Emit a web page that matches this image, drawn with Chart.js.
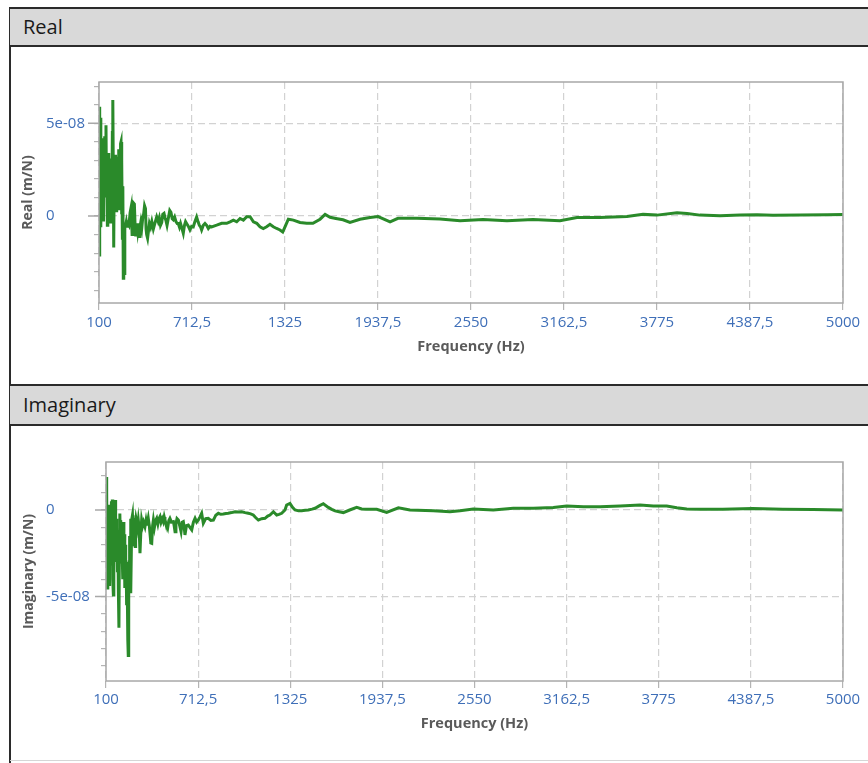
<!DOCTYPE html>
<html>
<head>
<meta charset="utf-8">
<script src="https://cdn.jsdelivr.net/npm/chart.js@4"></script>
<style>
  body { margin: 0; background: #fff; width: 868px; height: 763px; overflow: hidden; position: relative; font-family: 'Open Sans', sans-serif; }
  .edge { position: absolute; left: 9px; top: 7px; width: 2px; height: 760px; background: #2b2b2b; }
  .head { position: absolute; left: 10px; width: 870px; background: #d9d9d9; border-top: 2px solid #2b2b2b; border-bottom: 2px solid #2b2b2b; box-sizing: border-box; font-size: 20px; color: #1a1a1a; padding-left: 13px; }
  .foot { position: absolute; left: 10px; top: 760px; width: 870px; height: 1px; background: #d6d6d6; }
  canvas { position: absolute; }
</style>
</head>
<body>
<div class="edge"></div>
<div class="head" style="top:7px;height:40px;line-height:36px;">Real</div>
<div class="head" style="top:384px;height:42px;line-height:38px;">Imaginary</div>
<div class="foot"></div>
<canvas id="realChart" width="857" height="339" style="left:11px;top:46px;"></canvas>
<canvas id="imagChart" width="857" height="338" style="left:11px;top:425px;"></canvas>
<script>
// x tick positions (Hz)
const freqTicks = [100, 712.5, 1325, 1937.5, 2550, 3162.5, 3775, 4387.5, 5000];

// Real part (m/N)
const realFreq = [
  100, 103, 106, 109, 112, 115, 118, 121, 124, 127, 130, 133, 136, 139, 142, 146, 149, 152, 155, 158,
  161, 164, 167, 170, 173, 176, 179, 182, 185, 188, 191, 194, 197, 200, 203, 206, 209, 212, 215, 218,
  221, 224, 227, 230, 233, 236, 239, 242, 245, 248, 251, 254, 257, 260, 263, 266, 270, 275, 280, 285,
  290, 297, 305, 312, 318, 322, 328, 333, 338, 342, 348, 354, 359, 364, 370, 376, 382, 388, 394, 400,
  406, 410, 414, 420, 426, 432, 440, 448, 458, 468, 480, 490, 497, 505, 513, 520, 528, 535, 541, 548,
  557, 566, 574, 582, 589, 598, 607, 615, 622, 630, 637, 644, 655, 663, 670, 677, 688, 699, 710, 721,
  732, 743, 752, 761, 770, 776, 787, 798, 809, 820, 831, 842, 875, 908, 941, 963, 985, 1007, 1029, 1051,
  1073, 1095, 1117, 1139, 1160, 1182, 1204, 1226, 1248, 1270, 1292, 1310, 1325, 1347, 1380, 1424, 1468, 1509, 1556, 1589,
  1622, 1660, 1707, 1753, 1819, 1885, 1938, 2017, 2069, 2194, 2346, 2478, 2629, 2787, 2958, 3136, 3248, 3400, 3577, 3683,
  3775, 3907, 3973, 4058, 4190, 4322, 4434, 4539, 4717, 4895, 5000
];
const realVals = [
  -2.1e-8, 5.9e-8, 2.0e-8, 5.3e-8, -0.6e-8, 4.2e-8, 1.2e-8, 3.6e-8, 0.4e-8, 3.8e-8, -0.3e-8, 2.9e-8, 1.0e-8, 4.3e-8, 2.2e-8, 4.9e-8, 1.5e-8, 3.2e-8, -0.5e-8, 2.6e-8,
  0.6e-8, 3.4e-8, -0.2e-8, 2.8e-8, 1.3e-8, 3.1e-8, -0.4e-8, 2.4e-8, 0.9e-8, 4.5e-8, 6.26e-8, 2.6e-8, -1.7e-8, 2.0e-8, 0.2e-8, 3.3e-8, 1.1e-8, 2.9e-8, 0.2e-8, 2.5e-8,
  1.4e-8, 3.2e-8, 0.4e-8, 3.6e-8, 1.8e-8, 3.2e-8, 0.8e-8, 3.9e-8, 4.0e-8, 0.1e-8, 3.0e-8, -1.2e-8, 1.6e-8, -3.35e-8, -2.8e-8, -3.1e-8, -0.6e-8, -0.5e-8, -0.3e-8, -0.55e-8,
  -0.4e-8, -0.5e-8, 0.2e-8, 0.5e-8, -1.0e-8, -0.2e-8, 0.7e-8, 0.65e-8, -0.6e-8, -1.1e-8, -0.4e-8, -0.8e-8, -0.4e-8, -1.1e-8, -0.6e-8, -0.3e-8, -0.6e-8, -0.1e-8, 0.1e-8, 0.55e-8,
  0.4e-8, -0.7e-8, -1.0e-8, -1.2e-8, -0.8e-8, -0.4e-8, -0.6e-8, -0.3e-8, -0.7e-8, -0.4e-8, -0.05e-8, -0.3e-8, -0.1e-8, -0.5e-8, -0.35e-8, 0.1e-8, 0.15e-8, -0.1e-8, -0.25e-8, -0.5e-8,
  -0.1e-8, 0.3e-8, 0.2e-8, -0.15e-8, -0.2e-8, -0.05e-8, -0.3e-8, -0.4e-8, -0.4e-8, -0.6e-8, -0.4e-8, -0.6e-8, -0.93e-8, -0.5e-8, -0.3e-8, -0.4e-8, -0.55e-8, -0.75e-8, -0.55e-8, -0.58e-8,
  -0.3e-8, -0.05e-8, -0.3e-8, -0.5e-8, -0.6e-8, -0.75e-8, -0.5e-8, -0.4e-8, -0.5e-8, -0.67e-8, -0.55e-8, -0.58e-8, -0.49e-8, -0.39e-8, -0.39e-8, -0.31e-8, -0.22e-8, -0.31e-8, -0.13e-8, -0.22e-8,
  -0.04e-8, -0.04e-8, -0.31e-8, -0.39e-8, -0.58e-8, -0.67e-8, -0.58e-8, -0.45e-8, -0.58e-8, -0.67e-8, -0.75e-8, -0.86e-8, -0.58e-8, -0.17e-8, -0.22e-8, -0.35e-8, -0.39e-8, -0.39e-8, -0.17e-8, 0.09e-8,
  -0.07e-8, -0.13e-8, -0.2e-8, -0.34e-8, -0.17e-8, -0.08e-8, -0.03e-8, -0.31e-8, -0.12e-8, -0.12e-8, -0.16e-8, -0.25e-8, -0.18e-8, -0.25e-8, -0.18e-8, -0.25e-8, -0.08e-8, -0.08e-8, -0.03e-8, 0.09e-8,
  0.05e-8, 0.18e-8, 0.14e-8, 0.05e-8, 0.02e-8, 0.05e-8, 0.07e-8, 0.04e-8, 0.05e-8, 0.07e-8, 0.09e-8
];

// Imaginary part (m/N)
const imagFreq = [
  100, 103, 106, 109, 112, 115, 118, 121, 124, 127, 130, 133, 136, 139, 142, 145, 149, 152, 155, 158,
  161, 164, 167, 170, 173, 176, 179, 182, 186, 189, 192, 195, 198, 201, 204, 207, 210, 213, 216, 219,
  222, 225, 228, 231, 234, 237, 241, 245, 248, 251, 254, 257, 260, 263, 266, 269, 272, 276, 279, 282,
  286, 290, 293, 297, 300, 304, 310, 315, 320, 326, 331, 337, 344, 350, 359, 366, 372, 381, 388, 393,
  398, 404, 410, 415, 422, 430, 437, 445, 452, 459, 466, 474, 481, 487, 492, 500, 510, 518, 525, 535,
  548, 553, 559, 565, 572, 581, 590, 599, 607, 614, 620, 625, 635, 647, 658, 670, 681, 692, 703, 714,
  725, 736, 747, 763, 780, 797, 814, 830, 847, 863, 880, 897, 913, 935, 958, 980, 1002, 1025, 1046, 1062,
  1079, 1096, 1113, 1135, 1157, 1175, 1190, 1213, 1235, 1250, 1268, 1290, 1301, 1323, 1340, 1357, 1380, 1401, 1425, 1445,
  1470, 1490, 1520, 1545, 1578, 1601, 1623, 1650, 1678, 1720, 1767, 1800, 1833, 1900, 1966, 2044, 2121, 2276, 2387, 2454,
  2542, 2675, 2808, 2941, 3074, 3163, 3274, 3385, 3518, 3651, 3739, 3828, 3895, 3961, 4050, 4200, 4400, 4600, 4800, 5000
];
const imagVals = [
  1.9e-8, -3.3e-8, 1.0e-8, -4.5e-8, 0.2e-8, -2.5e-8, -0.5e-8, -4.3e-8, 0.3e-8, -1.5e-8, -0.3e-8, -3.2e-8, 0.5e-8, -2.0e-8, 0.6e-8, -4.0e-8, -4.9e-8, -1.0e-8, 0.2e-8, -2.2e-8,
  0.58e-8, -1.5e-8, -0.5e-8, -3.0e-8, -1.0e-8, -3.5e-8, -1.2e-8, -4.5e-8, -6.8e-8, -2.0e-8, -0.2e-8, -1.5e-8, -0.6e-8, -3.0e-8, -0.8e-8, -2.4e-8, -1.2e-8, -4.0e-8, -0.7e-8, -2.8e-8,
  -1.4e-8, -4.5e-8, -2.0e-8, -4.0e-8, -3.0e-8, -5.5e-8, -4.2e-8, -7.5e-8, -8.4e-8, -5.0e-8, -3.0e-8, -1.5e-8, -2.5e-8, -0.5e-8, -4.8e-8, -2.0e-8, -0.5e-8, -0.3e-8, -1.0e-8, -0.47e-8,
  -1.2e-8, -2.0e-8, -2.1e-8, -0.8e-8, -0.5e-8, -0.67e-8, -1.0e-8, -0.6e-8, -1.0e-8, -2.5e-8, -1.4e-8, -0.58e-8, -0.9e-8, -0.7e-8, -0.96e-8, -0.6e-8, -0.9e-8, -0.48e-8, -0.9e-8, -1.4e-8,
  -1.9e-8, -1.92e-8, -0.9e-8, -0.58e-8, -1.0e-8, -0.6e-8, -0.48e-8, -0.8e-8, -0.5e-8, -0.38e-8, -0.7e-8, -0.5e-8, -0.67e-8, -0.4e-8, -0.58e-8, -0.8e-8, -1.04e-8, -0.6e-8, -0.48e-8, -0.7e-8,
  -0.67e-8, -0.9e-8, -1.25e-8, -0.8e-8, -0.5e-8, -0.58e-8, -0.9e-8, -1.25e-8, -0.7e-8, -0.67e-8, -1.0e-8, -1.44e-8, -0.9e-8, -0.87e-8, -1.0e-8, -1.15e-8, -0.7e-8, -0.48e-8, -0.7e-8, -0.58e-8,
  -0.4e-8, -0.19e-8, -0.77e-8, -0.5e-8, -0.48e-8, -0.6e-8, -0.58e-8, -0.3e-8, -0.19e-8, -0.25e-8, -0.23e-8, -0.2e-8, -0.19e-8, -0.15e-8, -0.1e-8, -0.12e-8, -0.1e-8, -0.15e-8, -0.19e-8, -0.22e-8,
  -0.29e-8, -0.45e-8, -0.58e-8, -0.5e-8, -0.48e-8, -0.35e-8, -0.29e-8, -0.1e-8, -0.29e-8, -0.25e-8, -0.19e-8, 0.0, 0.29e-8, 0.38e-8, 0.15e-8, 0.0, -0.05e-8, -0.05e-8, -0.02e-8, 0.0,
  0.05e-8, 0.1e-8, 0.25e-8, 0.36e-8, 0.15e-8, 0.04e-8, -0.05e-8, -0.1e-8, -0.15e-8, 0.0, 0.15e-8, 0.06e-8, 0.04e-8, 0.04e-8, -0.14e-8, 0.13e-8, 0.0, -0.04e-8, -0.1e-8, -0.04e-8,
  0.06e-8, 0.0, 0.1e-8, 0.1e-8, 0.15e-8, 0.23e-8, 0.19e-8, 0.19e-8, 0.23e-8, 0.29e-8, 0.23e-8, 0.23e-8, 0.13e-8, 0.06e-8, 0.04e-8, 0.05e-8, 0.08e-8, 0.05e-8, 0.03e-8, 0.0
];

Chart.defaults.font.family = "'Open Sans', sans-serif";

const labelBlue = '#3f6fb8';
const gridGrey = '#d2d2d2';

function yLabel(v) {
  const n = Math.round(v / 1e-8);
  if (n === 0) return '0';
  if (n % 5 !== 0) return '';
  const parts = v.toExponential(0).split('e');
  const ex = +parts[1];
  return parts[0] + 'e' + (ex < 0 ? '-' : '+') + String(Math.abs(ex)).padStart(2, '0');
}

// plot frame + longer ticks at labelled y values
const framePlugin = {
  id: 'frame',
  afterDraw(chart) {
    const { ctx, chartArea: a } = chart;
    const ys = chart.scales.y;
    ctx.save();
    ctx.strokeStyle = '#a8a8a8';
    ctx.lineWidth = 1.5;
    ctx.strokeRect(a.left, a.top, a.right - a.left, a.bottom - a.top);
    ctx.beginPath();
    ys.ticks.forEach(t => {
      if (yLabel(t.value) === '') return;
      const py = ys.getPixelForValue(t.value);
      ctx.moveTo(a.left - 11, py);
      ctx.lineTo(a.left, py);
    });
    ctx.stroke();
    ctx.restore();
  }
};

function makeChart(id, freq, vals, cfg) {
  const points = freq.map((f, i) => ({ x: f, y: vals[i] }));

  return new Chart(document.getElementById(id), {
    type: 'line',
    data: {
      datasets: [{
        data: points,
        borderColor: '#2a8a2a',
        borderWidth: 3,
        pointRadius: 0,
        tension: 0
      }]
    },
    options: {
      responsive: false,
      animation: false,
      layout: { padding: { top: cfg.top, right: 25, bottom: cfg.bottom, left: 0 } },
      plugins: { legend: { display: false }, tooltip: { enabled: false } },
      scales: {
        x: {
          type: 'linear',
          min: 100,
          max: 5000,
          afterBuildTicks: s => { s.ticks = freqTicks.map(v => ({ value: v })); },
          afterFit: s => { s.height = cfg.xHeight; },
          grid: { color: gridGrey, lineWidth: 1.2, tickLength: 7, tickColor: '#b4b4b4' },
          border: { display: false, dash: [7, 4] },
          ticks: {
            color: labelBlue,
            font: { size: 15 },
            padding: cfg.xPad,
            maxRotation: 0,
            autoSkip: false,
            callback: v => String(v).replace('.', ',')
          },
          title: {
            display: true,
            text: 'Frequency (Hz)',
            color: '#5a5a5a',
            font: { size: 14.5, weight: 'bold' },
            padding: { top: 0, bottom: 0 }
          }
        },
        y: {
          min: cfg.yMin,
          max: cfg.yMax,
          weight: 0,
          afterFit: s => { s.width = cfg.yWidth; },
          grid: {
            color: c => (c.tick && yLabel(c.tick.value) !== '' ? gridGrey : 'rgba(0,0,0,0)'),
            lineWidth: 1.2,
            tickLength: 5,
            tickColor: '#b4b4b4'
          },
          border: { display: false, dash: [7, 4] },
          ticks: {
            stepSize: 1e-8,
            includeBounds: false,
            autoSkip: false,
            crossAlign: 'far',
            color: labelBlue,
            font: { size: 15 },
            callback: v => yLabel(v)
          }
        },
        yt: {
          type: 'linear',
          position: 'left',
          weight: 1,
          afterFit: s => { s.width = 35; },
          grid: { display: false },
          border: { display: false },
          ticks: { display: false },
          title: {
            display: true,
            text: cfg.yTitle,
            color: '#5a5a5a',
            font: { size: 14, weight: 'bold' },
            padding: { top: cfg.titlePad, bottom: 0 }
          }
        }
      }
    },
    plugins: [framePlugin]
  });
}

makeChart('realChart', realFreq, realVals, {
  top: 36, bottom: 29, xHeight: 53, xPad: 4,
  yMin: -4.69e-8, yMax: 7.23e-8, yWidth: 53, titlePad: 9,
  yTitle: 'Real (m/N)'
});

makeChart('imagChart', imagFreq, imagVals, {
  top: 37, bottom: 30, xHeight: 52, xPad: 3,
  yMin: -9.87e-8, yMax: 2.77e-8, yWidth: 60, titlePad: 10,
  yTitle: 'Imaginary (m/N)'
});
</script>
</body>
</html>
